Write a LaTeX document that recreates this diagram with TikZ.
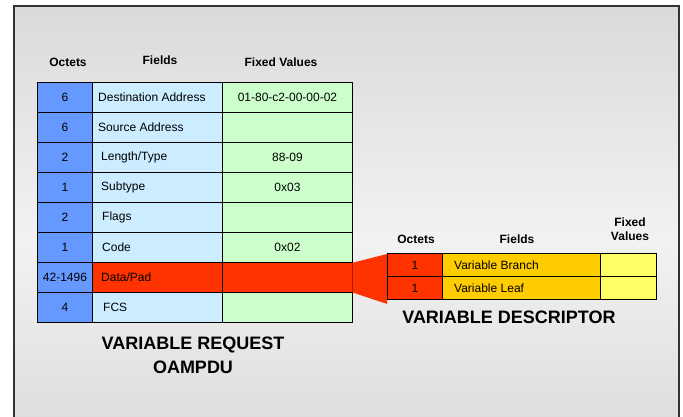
\documentclass[tikz,border=0pt]{standalone}
\usepackage{fontspec}
\setmainfont{Liberation Sans}
\definecolor{octblue}{HTML}{6699FF}
\definecolor{fldblue}{HTML}{CCECFF}
\definecolor{valgreen}{HTML}{CCFFCC}
\definecolor{hotred}{HTML}{FF3300}
\definecolor{amber}{HTML}{FFCC00}
\definecolor{paleyellow}{HTML}{FFFF66}
\definecolor{bgtop}{HTML}{DADADA}
\definecolor{bgmid}{HTML}{F2F2F2}
\definecolor{bgbot}{HTML}{DEDEDE}
\definecolor{framecol}{HTML}{333333}
\tikzset{
  cell/.style={draw=black, line width=0.9pt, inner sep=0pt, anchor=north west,
    font=\fontsize{12}{14}\selectfont},
  octcell/.style={cell, fill=octblue, minimum width=55pt, minimum height=30pt},
  fldcell/.style={cell, fill=fldblue, minimum width=130pt, minimum height=30pt},
  valcell/.style={cell, fill=valgreen, minimum width=130pt, minimum height=30pt},
  roct/.style={cell, fill=hotred, minimum width=55pt, minimum height=23pt},
  rfld/.style={cell, fill=amber, minimum width=158pt, minimum height=23pt},
  rval/.style={cell, fill=paleyellow, minimum width=56pt, minimum height=23pt},
  celltext/.style={inner sep=0pt, font=\fontsize{12}{14}\selectfont},
  head/.style={inner sep=0pt, font=\bfseries\fontsize{12}{14}\selectfont, align=center},
  title/.style={inner sep=0pt, font=\bfseries\fontsize{18}{24}\selectfont, align=center},
}
\begin{document}
\begin{tikzpicture}[x=1pt, y=-1pt]
\useasboundingbox (0,0) rectangle (683,416);
\begin{scope}
\clip (0,0) rectangle (683,416);
% panel background with soft vertical gradient
\shade[top color=bgtop, bottom color=bgmid] (14,6) rectangle (679,240);
\shade[top color=bgmid, bottom color=bgbot] (14,240) rectangle (679,420);
\draw[framecol, line width=1.4pt] (14,422) -- (14,6) -- (679,6) -- (679,422);
\end{scope}

% ---- left table: headers
\node[head] (hoct) at (68,62) {Octets};
\node[head] (hfld) at (160,60) {Fields};
\node[head] (hval) at (281,62) {Fixed Values};

% ---- left table: octet column
\node[octcell] (o1) at (37,82)  {6};
\node[octcell] (o2) at (37,112) {6};
\node[octcell] (o3) at (37,142) {2};
\node[octcell] (o4) at (37,172) {1};
\node[octcell] (o5) at (37,202) {2};
\node[octcell] (o6) at (37,232) {1};
\node[octcell] (o7) at (37,262) {42-1496};
\node[octcell] (o8) at (37,292) {4};

% ---- left table: field column
\node[fldcell] (f1) at (92,82)  {};
\node[fldcell] (f2) at (92,112) {};
\node[fldcell] (f3) at (92,142) {};
\node[fldcell] (f4) at (92,172) {};
\node[fldcell] (f5) at (92,202) {};
\node[fldcell] (f6) at (92,232) {};
\node[fldcell, fill=hotred] (f7) at (92,262) {};
\node[fldcell] (f8) at (92,292) {};
\node[celltext, anchor=west] (t1) at (98,97)  {Destination Address};
\node[celltext, anchor=west] (t2) at (98,127) {Source Address};
\node[celltext, anchor=west] (t3) at (101,157) {Length/Type};
\node[celltext, anchor=west] (t4) at (101,187) {Subtype};
\node[celltext, anchor=west] (t5) at (102,217) {Flags};
\node[celltext, anchor=west] (t6) at (102,247) {Code};
\node[celltext, anchor=west] (t7) at (101,277) {Data/Pad};
\node[celltext, anchor=west] (t8) at (103,307) {FCS};

% ---- left table: fixed value column
\node[valcell] (v1) at (222,82)  {01-80-c2-00-00-02};
\node[valcell] (v2) at (222,112) {};
\node[valcell] (v3) at (222,142) {88-09};
\node[valcell] (v4) at (222,172) {0x03};
\node[valcell] (v5) at (222,202) {};
\node[valcell] (v6) at (222,232) {0x02};
\node[valcell, fill=hotred] (v7) at (222,262) {};
\node[valcell] (v8) at (222,292) {};

\node[title] (ltitle) at (193,355) {VARIABLE REQUEST\\OAMPDU};

% ---- right table: headers
\node[head] (rhoct) at (416,239) {Octets};
\node[head] (rhfld) at (517,239) {Fields};
\node[head] (rhval) at (630,229) {Fixed\\Values};

% ---- right table cells
\node[roct] (ro1) at (387,253) {1};
\node[roct] (ro2) at (387,276) {1};
\node[rfld] (rf1) at (442,253) {};
\node[rfld] (rf2) at (442,276) {};
\node[rval] (rv1) at (600,253) {};
\node[rval] (rv2) at (600,276) {};
\node[celltext, anchor=west] (rt1) at (454,265) {Variable Branch};
\node[celltext, anchor=west] (rt2) at (454,288) {Variable Leaf};

% widening band from Data/Pad to the descriptor
\fill[hotred] ([shift={(-0.6,0.8)}]v7.north east) -- ([shift={(0,1)}]ro1.north west)
  -- ([shift={(0,4)}]ro2.south west) -- ([shift={(-0.6,-0.5)}]v7.south east) -- cycle;
\draw[line width=0.9pt] (ro1.north west) -- (ro2.south west);

\node[title] (rtitle) at (509,317) {VARIABLE DESCRIPTOR};
\end{tikzpicture}
\end{document}
